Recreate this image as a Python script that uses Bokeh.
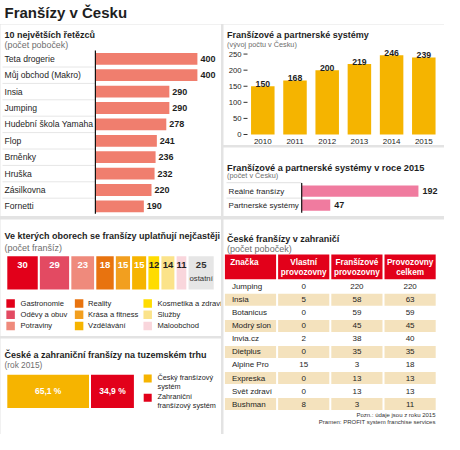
import numpy as np
from bokeh.plotting import figure
from bokeh.layouts import row, column
from bokeh.models import Range1d
from bokeh.core.properties import value
from bokeh.embed import file_html
from bokeh.resources import INLINE

# ---------------- data ----------------
chains = ["Teta drogerie", "Můj obchod (Makro)", "Insia", "Jumping",
          "Hudební škola Yamaha", "Flop", "Brněnky", "Hruška", "Zásilkovna", "Fornetti"]
chain_branches = [400, 400, 290, 290, 278, 241, 236, 232, 220, 190]

years = ["2010", "2011", "2012", "2013", "2014", "2015"]
systems_count = [150, 168, 200, 219, 246, 239]
systems_ticks = [0, 50, 100, 150, 200, 250]

types_2015 = ["Reálné franšízy", "Partnerské systémy"]
types_2015_count = [192, 47]

sectors = ["Gastronomie", "Oděvy a obuv", "Potraviny", "Reality", "Krása a fitness",
           "Vzdělávání", "Kosmetika a zdraví", "Služby", "Maloobchod", "ostatní"]
sector_count = [30, 29, 23, 18, 15, 15, 12, 14, 11, 25]

market = ["Český franšízový\nsystém", "Zahraniční\nfranšízový systém"]
market_share = [65.1, 34.9]

table_header = ["Značka", "Vlastní\nprovozovny", "Franšízové\nprovozovny", "Provozovny\ncelkem"]
brands = ["Jumping", "Insia", "Botanicus", "Modrý slon", "Invia.cz", "Dietplus",
          "Alpine Pro", "Expreska", "Svět zdraví", "Bushman"]
own_units = [0, 5, 0, 0, 2, 0, 15, 0, 0, 8]
franchise_units = [220, 58, 59, 45, 38, 35, 3, 13, 13, 3]
total_units = [220, 63, 59, 45, 40, 35, 18, 13, 13, 11]

notes = ["Pozn.: údaje jsou z roku 2015", "Pramen: PROFIT system franchise services"]

# ---------------- styles ----------------
FONT = "Liberation Sans"
TXT = "#1e1e1e"
SUB = "#6e6e6e"
BG = {"background-color": "#e3e3e3"}
sector_colors = ["#e2001a", "#e34a62", "#ef8a7c", "#e8730f", "#f29f1f",
                 "#f6b400", "#ffdc00", "#fbe38a", "#f9d6dc", "#e6e6e6"]
sector_text_colors = ["white"] * 6 + [TXT, TXT, TXT, "#333333"]


def panel(w, h, xr=(0, 1), yr=(0, 1)):
    p = figure(width=w, height=h, x_range=Range1d(*xr), y_range=Range1d(*yr),
               x_axis_location=None, y_axis_location=None,
               toolbar_location=None, output_backend="svg",
               min_border=0, outline_line_color=None,
               background_fill_color="white", border_fill_color="white")
    p.extra_x_ranges = {"px": Range1d(0, w)}
    p.extra_y_ranges = {"px": Range1d(h, 0)}
    p.grid.visible = False
    return p


def label(p, x, y, texts, size, bold=False, color=TXT, align="left",
          baseline="middle", xr="px", yr="px", font=FONT, **kw):
    p.text(x=list(x), y=list(y), text=list(texts), x_range_name=xr, y_range_name=yr,
           text_font=value(font), text_font_size=f"{size}px",
           text_font_style="bold" if bold else "normal",
           text_color=color, text_align=align, text_baseline=baseline, **kw)


def heading(p, x, y1, t1, y2, t2, s1=9, s2=9):
    label(p, [x], [y1], [t1], s1, bold=True, baseline="alphabetic")
    label(p, [x], [y2], [t2], s2, color=SUB, baseline="alphabetic")


# ---------------- title ----------------
T = panel(444, 24)
label(T, [4], [12], ["Franšízy v Česku"], 15, bold=True, baseline="middle")

# ---------------- A: 10 largest chains ----------------
A_W, A_H = 221, 192
a_zero, a_scale, a_top, a_step = 94.9, 0.255, 34.3, 16.4
A = panel(A_W, A_H, (-a_zero / a_scale, (A_W - a_zero) / a_scale),
          (-(A_H - a_top) / a_step, a_top / a_step))
heading(A, 4, 10.1, "10 největších řetězců", 20.7, "(počet poboček)", 9, 8.9)
n = len(chains)
ya = -np.arange(n)
A.segment(x0=[2] * (n - 1), x1=[a_zero] * (n - 1), y0=ya[1:] + 0.5, y1=ya[1:] + 0.5,
          x_range_name="px", line_color="#e6e6e6", line_width=1)
A.hbar(y=ya, left=0, right=chain_branches, height=0.72, fill_color="#f07e6e", line_color=None)
A.segment(x0=[0], x1=[0], y0=[0.5], y1=[ya[-1] - 0.45], line_color="#111111", line_width=1.2)
label(A, [4] * n, ya, chains, 8.6, yr="default")
label(A, chain_branches, ya, [str(v) for v in chain_branches], 9, bold=True,
      xr="default", yr="default", x_offset=3)

# ---------------- B: systems by year ----------------
B_W, B_H = 221, 121
b_zero, b_scale, b_first, b_step = 110, 0.3217, 39.3, 32.2
B = panel(B_W, B_H, (-b_first / b_step, (B_W - b_first) / b_step),
          (-(B_H - b_zero) / b_scale, b_zero / b_scale))
heading(B, 3.6, 10, "Franšízové a partnerské systémy", 20.3, "(vývoj počtu v Česku)", 9, 7.3)
xb = np.arange(len(years))
B.vbar(x=xb, top=systems_count, width=0.73, fill_color="#f5b400", line_color=None)
label(B, xb, systems_count, [str(v) for v in systems_count], 8.7, bold=True, align="center",
      baseline="alphabetic", xr="default", yr="default", y_offset=-2.5)
label(B, xb, [0] * len(years), years, 8, align="center", xr="default", yr="default", y_offset=7)
B.segment(x0=[20] * len(systems_ticks), x1=[24] * len(systems_ticks), y0=systems_ticks,
          y1=systems_ticks, x_range_name="px", line_color="#333333", line_width=1)
label(B, [18] * len(systems_ticks), systems_ticks, [str(t) for t in systems_ticks], 7.7,
      align="right", yr="default")

# ---------------- C: systems in 2015 ----------------
C_W, C_H = 221, 69
c_zero, c_scale, c_top, c_step = 78.2, 0.608, 43.6, 14
C = panel(C_W, C_H, (-c_zero / c_scale, (C_W - c_zero) / c_scale),
          (-(C_H - c_top) / c_step, c_top / c_step))
heading(C, 3.6, 20.9, "Franšízové a partnerské systémy v roce 2015", 28.2, "(počet v Česku)", 9.2, 7.3)
yc = -np.arange(len(types_2015))
C.segment(x0=[3, 3], x1=[c_zero, c_zero], y0=[0.6, -0.5], y1=[0.6, -0.5],
          x_range_name="px", line_color="#e0e0e0", line_width=1)
C.hbar(y=yc, left=0, right=types_2015_count, height=0.8, fill_color="#f07b9f", line_color=None)
C.segment(x0=[0], x1=[0], y0=[0.58], y1=[yc[-1] - 0.55], line_color="#111111", line_width=1.2)
label(C, [5.1] * len(types_2015), yc, types_2015, 8, yr="default")
label(C, types_2015_count, yc, [str(v) for v in types_2015_count], 9, bold=True,
      xr="default", yr="default", x_offset=4)

# ---------------- D: sectors ----------------
D_W, D_H = 221, 117
d_left, d_scale, d_mid, d_bar = 5.8, 1.0854, 53.4, 35.4
D = panel(D_W, D_H, (-d_left / d_scale, (D_W - d_left) / d_scale), (-(D_H - d_mid), d_mid))
heading(D, 4, 16.4, "Ve kterých oborech se franšízy uplatňují nejčastěji", 28.5, "(počet franšíz)", 9, 9)
s_end = np.cumsum(sector_count)
s_start = s_end - np.array(sector_count)
s_mid = (s_start + s_end) / 2
D.hbar(y=[0] * len(sectors), left=s_start, right=s_end, height=d_bar,
       fill_color=sector_colors, line_color="white", line_width=2)
label(D, s_mid, [0] * len(sectors), [str(v) for v in sector_count], 9.5, bold=True,
      color=sector_text_colors, align="center", xr="default", yr="default", y_offset=-8)
label(D, [s_mid[-1]], [0], [sectors[-1]], 7.8, color="#333333", align="center",
      xr="default", yr="default", y_offset=5.5)
leg_sq_x = [10.1, 78.6, 147.2]
leg_tx = [20, 87.5, 157]
leg_y = [84, 95.2, 106.4]
D.rect(x=[leg_sq_x[k // 3] for k in range(9)], y=[leg_y[k % 3] for k in range(9)],
       width=8.5, height=8.5, fill_color=sector_colors[:9], line_color=None,
       x_range_name="px", y_range_name="px")
label(D, [leg_tx[k // 3] for k in range(9)], [leg_y[k % 3] for k in range(9)], sectors[:9], 7.6)

# ---------------- E: Czech vs foreign ----------------
E_W, E_H = 221, 96
e_left, e_scale, e_mid, e_bar = 5.8, 1.286, 52.8, 35.3
E = panel(E_W, E_H, (-e_left / e_scale, (E_W - e_left) / e_scale), (-(E_H - e_mid), e_mid))
heading(E, 4, 16.1, "České a zahraniční franšízy na tuzemském trhu", 26.7, "(rok 2015)", 9, 8.3)
m_end = np.cumsum(market_share)
m_start = m_end - np.array(market_share)
E.hbar(y=[0, 0], left=m_start, right=m_end, height=e_bar,
       fill_color=["#f6b400", "#e2001a"], line_color="white", line_width=2)
label(E, (m_start + m_end) / 2, [0, 0],
      [f"{v:.1f} %".replace(".", ",") for v in market_share], 8.5, bold=True,
      color="white", align="center", xr="default", yr="default")
E.rect(x=[147.2, 147.2], y=[40, 59.3], width=8, height=8,
       fill_color=["#f6b400", "#e2001a"], line_color=None, x_range_name="px", y_range_name="px")
leg_lines, leg_ly = [], []
for k, name in enumerate(market):
    for j, ln in enumerate(name.split("\n")):
        leg_lines.append(ln)
        leg_ly.append([39, 58.3][k] + 9 * j)
label(E, [157] * len(leg_lines), leg_ly, leg_lines, 7.3)

# ---------------- F: table ----------------
F_W, F_H = 221, 215
f_first, f_col, f_top, f_step = 27, 53.2, 67.3, 13.03
F = panel(F_W, F_H, (-f_first / f_col, (F_W - f_first) / f_col),
          (-(F_H - f_top) / f_step, f_top / f_step))
heading(F, 3.6, 19.3, "České franšízy v zahraničí", 29, "(počet poboček)", 9, 9)
cols = np.arange(len(table_header))
F.rect(x=cols, y=[47.4] * len(cols), width=0.962, height=24.8, fill_color="#e2001a",
       line_color=None, y_range_name="px")
hx, hy, ht, ha, hoff = [], [], [], [], []
for j, h in enumerate(table_header):
    parts = h.split("\n")
    for k, ln in enumerate(parts):
        hx.append(j)
        hy.append(43.4 + 10 * k)
        ht.append(ln)
        ha.append("left" if j == 0 else "center")
        hoff.append(-20.2 if j == 0 else 0)
label(F, hx, hy, ht, 8.2, bold=True, color="white", align=ha, xr="default", x_offset=hoff)
yf = -np.arange(len(brands))
shade_rows = [yf[i] for i in range(len(brands)) if i % 2 == 1]
F.rect(x=[j for r in shade_rows for j in cols], y=[r for r in shade_rows for j in cols],
       width=0.962, height=0.92, fill_color="#f4e2bd", line_color=None)
label(F, [0] * len(brands), yf, brands, 8, xr="default", yr="default", x_offset=-18.6)
for j, vals in zip([1, 2, 3], [own_units, franchise_units, total_units]):
    label(F, [j] * len(vals), yf, [str(v) for v in vals], 8, align="center",
          xr="default", yr="default")
label(F, [212, 212], [195.6, 202.9], notes, 6, align="right", color="#333333")

# ---------------- layout ----------------
top = row(A, column(B, C, spacing=2, styles=BG), spacing=2, styles=BG)
bottom = row(column(D, E, spacing=2, styles=BG), F, spacing=2, styles=BG)
page = column(T, column(top, bottom, spacing=3, styles=BG), spacing=0)

open("out.html", "w").write(file_html(page, INLINE))
